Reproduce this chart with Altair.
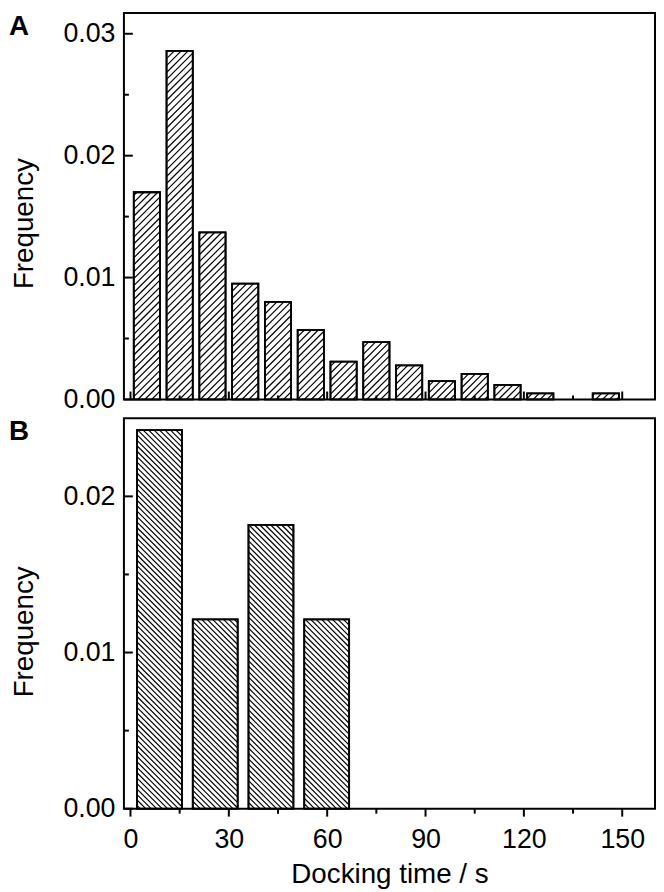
import altair as alt
import pandas as pd
import numpy as np

# ---------------- data ----------------
# Panel A: docking-time histogram (bin centres in s, frequency)
a_centers = [5, 15, 25, 35, 45, 55, 65, 75, 85, 95, 105, 115, 125, 145]
a_freq = [0.0170, 0.0286, 0.0137, 0.0095, 0.0080, 0.0057, 0.0031,
          0.0047, 0.0028, 0.0015, 0.0021, 0.0012, 0.0005, 0.0005]

# Panel B: docking-time histogram (bar left / right edges in s, frequency)
b_start = [2.0, 19.0, 36.0, 53.0]
b_end = [15.7, 32.7, 49.7, 66.7]
b_freq = [0.02424, 0.01212, 0.01818, 0.01212]

x_major = [0, 30, 60, 90, 120, 150]
x_minor = [15, 45, 75, 105, 135]
a_y_major = [0.0, 0.01, 0.02, 0.03]
a_y_minor = [0.005, 0.015, 0.025]
b_y_major = [0.0, 0.01, 0.02]
b_y_minor = [0.005, 0.015]

# ---------------- style / layout ----------------
FONT = "Liberation Sans"
W = 536
HA, HB = 390, 394
XDOM = [-2, 160]
A_YDOM = [0, 0.0317]
B_YDOM = [0, 0.025]
A_BAR_W = 8.0

xscale = alt.Scale(domain=XDOM, nice=False, zero=False)
a_yscale = alt.Scale(domain=A_YDOM, nice=False)
b_yscale = alt.Scale(domain=B_YDOM, nice=False)

SX = W / (XDOM[1] - XDOM[0])


def hatch(x0s, x1s, hs, sy, step, rising):
    """Diagonal hatch segments (45 deg on screen) clipped to each bar."""
    rows = []
    for x0, x1, h in zip(x0s, x1s, hs):
        X0 = (x0 - XDOM[0]) * SX
        X1 = (x1 - XDOM[0]) * SX
        H = h * sy
        if rising:
            cs = np.arange(np.floor((X0 - H) / step) * step, X1 + step, step)
            for c in cs:
                a = max(X0, c)
                b = min(X1, c + H)
                if b - a > 0.4:
                    rows.append(dict(x=a / SX + XDOM[0], y=(a - c) / sy,
                                     x2=b / SX + XDOM[0], y2=(b - c) / sy))
        else:
            cs = np.arange(np.floor(X0 / step) * step, X1 + H + step, step)
            for c in cs:
                a = max(X0, c - H)
                b = min(X1, c)
                if b - a > 0.4:
                    rows.append(dict(x=a / SX + XDOM[0], y=(c - a) / sy,
                                     x2=b / SX + XDOM[0], y2=(c - b) / sy))
    return pd.DataFrame(rows)


def make_y_axis(values, title_y):
    return alt.Axis(values=values, format=".2f", ticks=False, domain=False,
                    grid=False, labelFontSize=27, labelPadding=9,
                    title="Frequency", titleFontSize=28, titleFontWeight="normal",
                    titlePadding=25, titleY=title_y)


def build_panel(bars_df, hatch_df, yscale, yaxis, xaxis, H, y_major, y_minor,
                x_inward, label):
    X = lambda f: alt.X(f, scale=xscale, axis=xaxis)
    Y = lambda f: alt.Y(f, scale=yscale, axis=yaxis)
    layers = []
    layers.append(alt.Chart(bars_df).mark_rect(
        fill="white", stroke="black", strokeWidth=1.8).encode(
        x=X("x0:Q"), x2="x1:Q", y=Y("f:Q"), y2=alt.datum(0)))
    layers.append(alt.Chart(hatch_df).mark_rule(color="black", strokeWidth=1.2).encode(
        x=X("x:Q"), x2="x2:Q", y=Y("y:Q"), y2="y2:Q"))
    layers.append(alt.Chart(bars_df).mark_rect(
        fill=None, stroke="black", strokeWidth=1.8).encode(
        x=X("x0:Q"), x2="x1:Q", y=Y("f:Q"), y2=alt.datum(0)))
    # ticks (y: inward on left edge)
    layers.append(alt.Chart(pd.DataFrame({"v": y_major})).mark_rule(
        color="black", strokeWidth=2).encode(
        y=Y("v:Q"), x=alt.value(0), x2=alt.value(9)))
    layers.append(alt.Chart(pd.DataFrame({"v": y_minor})).mark_rule(
        color="black", strokeWidth=2).encode(
        y=Y("v:Q"), x=alt.value(0), x2=alt.value(5)))
    if x_inward:
        maj, mnr = (H, H - 8), (H, H - 4)
    else:
        maj, mnr = (H, H + 8), (H, H + 5)
    layers.append(alt.Chart(pd.DataFrame({"v": x_major})).mark_rule(
        color="black", strokeWidth=2).encode(
        x=X("v:Q"), y=alt.value(maj[0]), y2=alt.value(maj[1])))
    layers.append(alt.Chart(pd.DataFrame({"v": x_minor})).mark_rule(
        color="black", strokeWidth=2).encode(
        x=X("v:Q"), y=alt.value(mnr[0]), y2=alt.value(mnr[1])))
    layers.append(alt.Chart(pd.DataFrame({"t": [label]})).mark_text(
        align="left", baseline="top", fontSize=28, fontWeight="bold",
        font=FONT, color="black").encode(
        x=alt.value(-116), y=alt.value(0), text="t:N"))
    return alt.layer(*layers).properties(width=W, height=H)


# ---------------- panel A ----------------
dfa = pd.DataFrame({
    "x0": [c - A_BAR_W / 2 for c in a_centers],
    "x1": [c + A_BAR_W / 2 for c in a_centers],
    "f": a_freq,
})
a_h = hatch(dfa.x0, dfa.x1, dfa.f, HA / A_YDOM[1], 7.0, True)
panel_a = build_panel(dfa, a_h, a_yscale, make_y_axis(a_y_major, 212), None, HA,
                      a_y_major, a_y_minor, True, "A")

# ---------------- panel B ----------------
dfb = pd.DataFrame({"x0": b_start, "x1": b_end, "f": b_freq})
b_h = hatch(dfb.x0, dfb.x1, dfb.f, HB / B_YDOM[1], 5.5, False)
b_xaxis = alt.Axis(values=x_major, format="d", ticks=False, domain=False,
                   grid=False, labelFontSize=27, labelPadding=18,
                   title="Docking time / s", titleFontSize=28,
                   titleFontWeight="normal", titlePadding=8)
panel_b = build_panel(dfb, b_h, b_yscale, make_y_axis(b_y_major, 215), b_xaxis, HB,
                      b_y_major, b_y_minor, False, "B")

chart = alt.vconcat(panel_a, panel_b, spacing=19, bounds="flush").properties(
    padding={"left": 0, "top": 0, "right": 0, "bottom": 0}
).configure_view(stroke="black", strokeWidth=2).configure_axis(
    labelFont=FONT, titleFont=FONT, labelColor="black", titleColor="black"
)

chart.save("out.html", embed_options={"renderer": "svg", "actions": False})
